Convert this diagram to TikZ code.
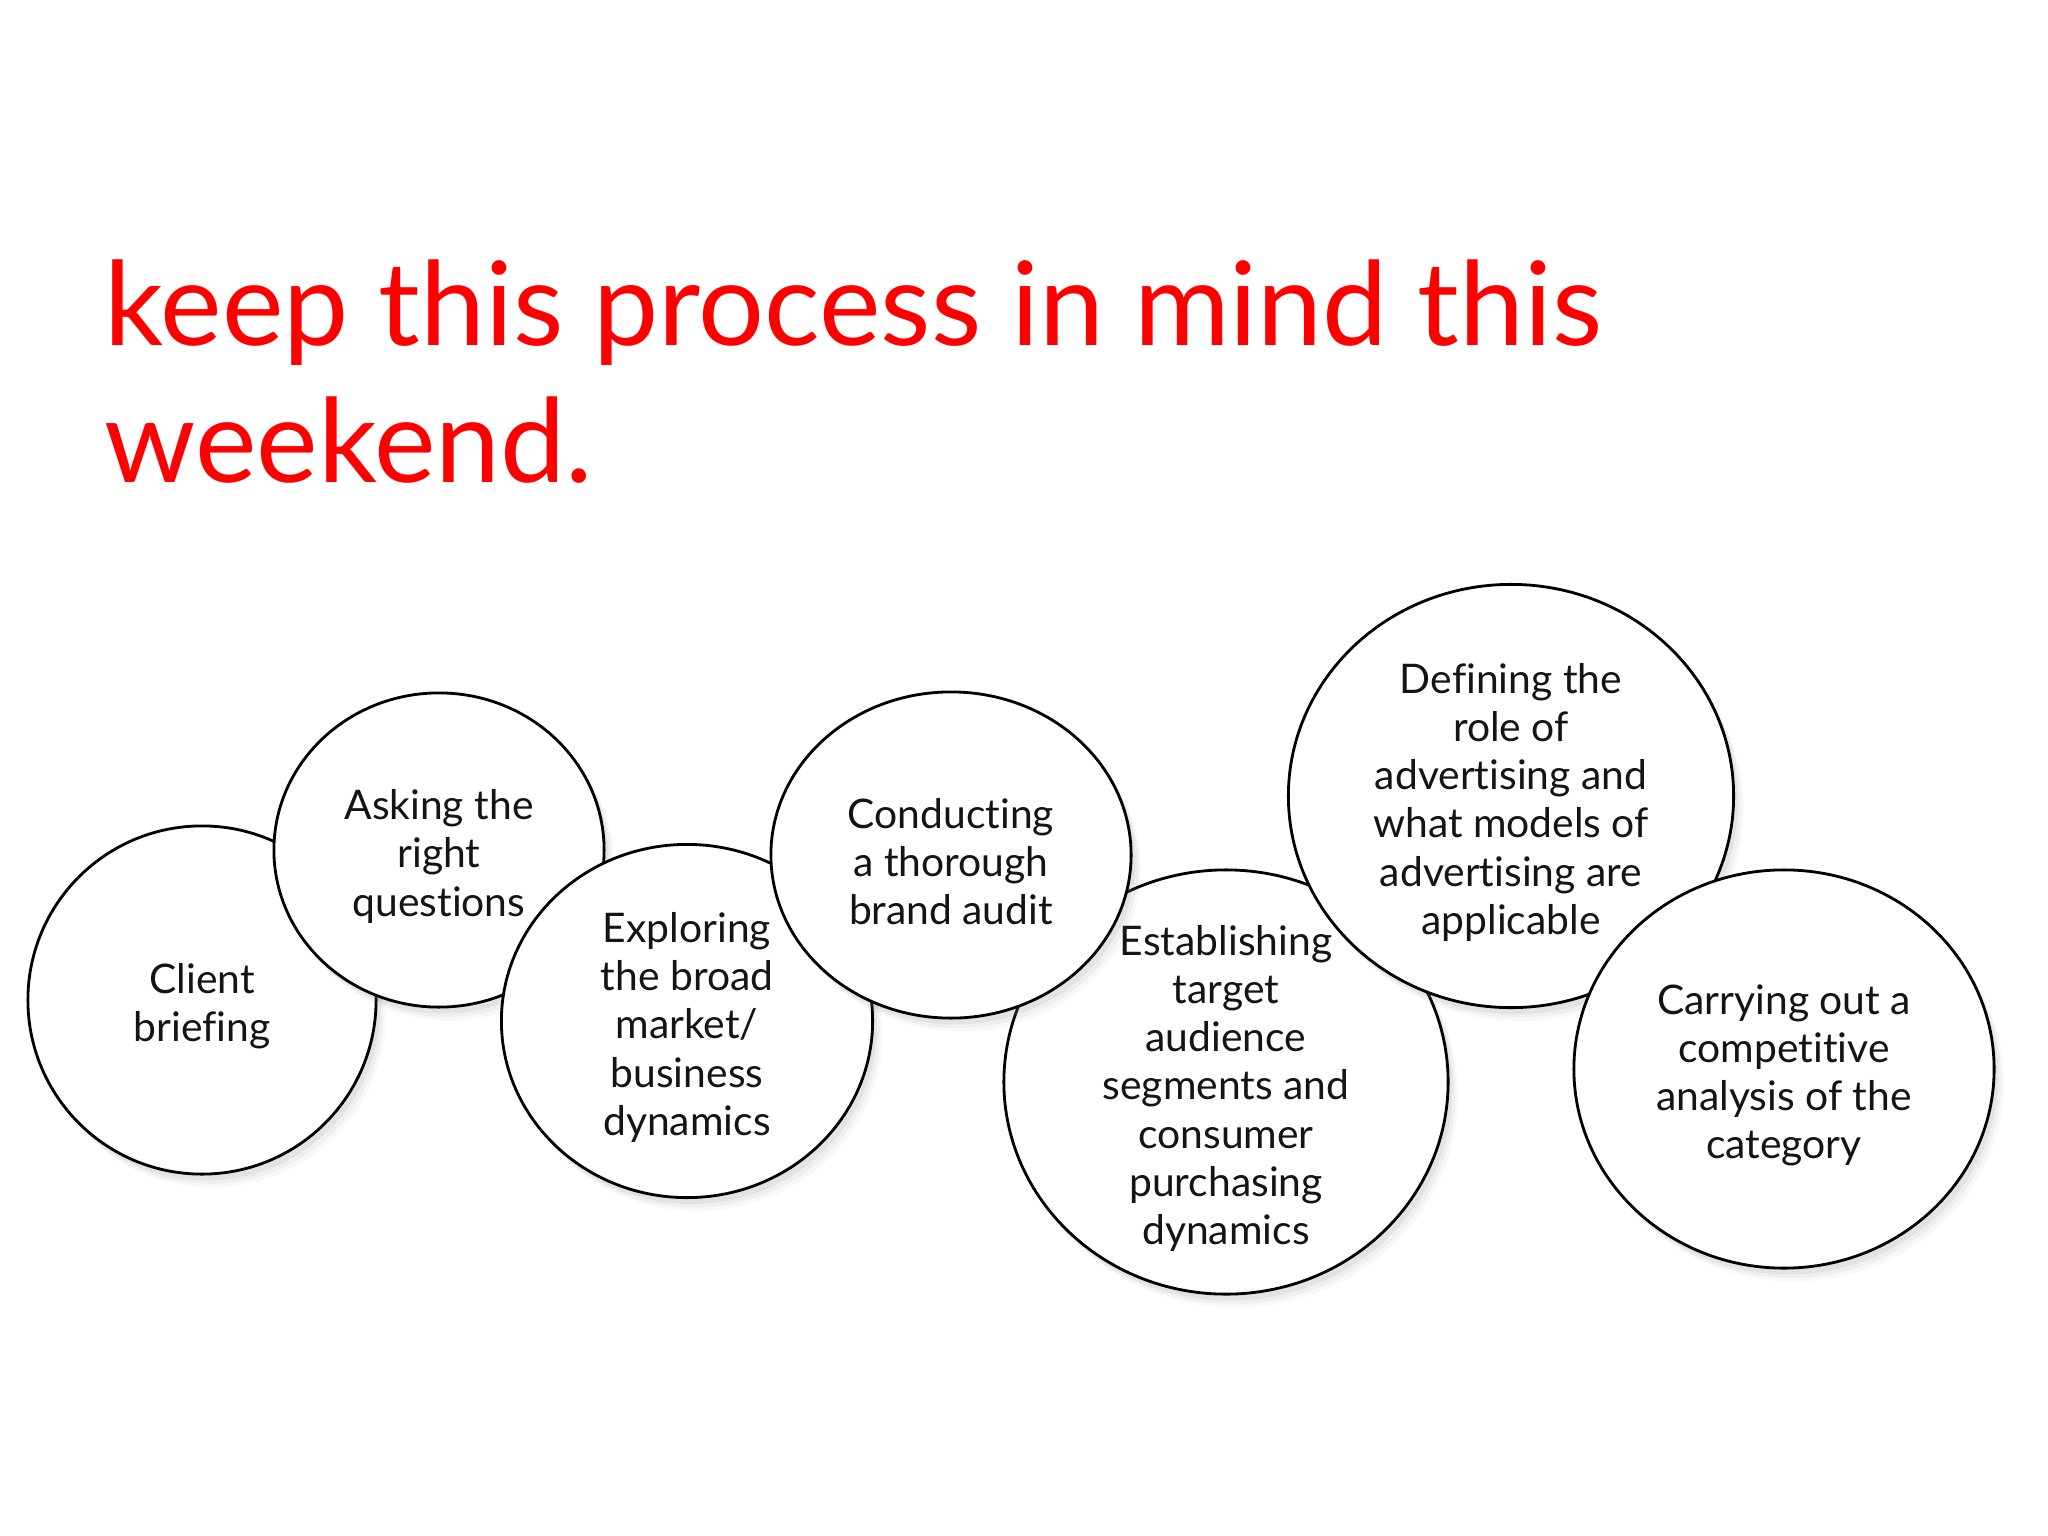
\documentclass[tikz,border=0pt]{standalone}
\usepackage{fontspec}
\setmainfont[Ligatures=NoCommon]{Lato}
\usetikzlibrary{shapes.geometric,shadows}
\tikzset{
  bub/.style={ellipse, draw=black, line width=0.8pt, fill=white, inner sep=0pt,
    drop shadow={opacity=0.10, shadow xshift=1.2pt, shadow yshift=-1.8pt},
    drop shadow={opacity=0.08, shadow xshift=2pt, shadow yshift=-2.8pt},
    drop shadow={opacity=0.05, shadow xshift=2.8pt, shadow yshift=-3.8pt}},
  btxt/.style={align=center, inner sep=0pt, yshift=-1.8pt, text=black!92, font=\fontsize{11.6}{13.7}\selectfont},
  ttl/.style={anchor=base west, inner sep=0pt, text={rgb,255:red,255;green,0;blue,0}, font=\fontsize{33.1}{39}\selectfont}
}
\begin{document}
\begin{tikzpicture}[x=0.01cm,y=-0.01cm]
\useasboundingbox[fill=white] (0,0) rectangle (2048,1536);
\node[ttl] (title1) at (104,345) {keep this process in mind this};
\node[ttl] (title2) at (104,482) {weekend.};
% 1
\node[bub, minimum width=3.48cm, minimum height=3.48cm] (c1) at (202,1000) {};
\node[btxt] (t1) at (c1.center) {Client\\briefing};
% 2
\node[bub, minimum width=3.30cm, minimum height=3.14cm] (c2) at (439,850) {};
\node[btxt] (t2) at (c2.center) {Asking the\\right\\questions};
% 3
\node[bub, minimum width=3.71cm, minimum height=3.53cm] (c3) at (687,1021) {};
\node[btxt] (t3) at (c3.center) {Exploring\\the broad\\market/\\business\\dynamics};
% 5
\node[bub, minimum width=4.44cm, minimum height=4.24cm] (c5) at (1226,1082) {};
\node[btxt] (t5) at (c5.center) {Establishing\\target\\audience\\segments and\\consumer\\purchasing\\dynamics};
% 4
\node[bub, minimum width=3.60cm, minimum height=3.26cm] (c4) at (951,855) {};
\node[btxt] (t4) at (c4.center) {Conducting\\a thorough\\brand audit};
% 6
\node[bub, minimum width=4.45cm, minimum height=4.23cm] (c6) at (1511,796) {};
\node[btxt] (t6) at (c6.center) {Defining the\\role of\\advertising and\\what models of\\advertising are\\applicable};
% 7
\node[bub, minimum width=4.20cm, minimum height=3.98cm] (c7) at (1784,1069) {};
\node[btxt] (t7) at (c7.center) {Carrying out a\\competitive\\analysis of the\\category};
\end{tikzpicture}
\end{document}
